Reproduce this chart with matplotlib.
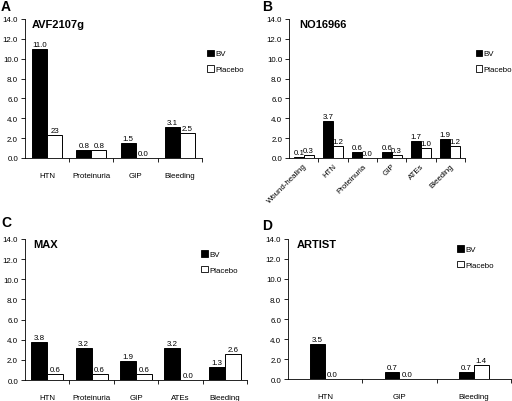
import matplotlib
matplotlib.use("Agg")
import matplotlib.pyplot as plt
from matplotlib.patches import Patch

plt.rcParams["font.family"] = ["Liberation Sans", "DejaVu Sans"]

# Panel data (incidence %, BV vs placebo)
a_cats = ["HTN", "Proteinuria", "GIP", "Bleeding"]
a_bv = [11.0, 0.8, 1.5, 3.1]
a_pl = [2.3, 0.8, 0.0, 2.5]

b_cats = ["Wound-healing", "HTN", "Proteinuria", "GIP", "ATEs", "Bleeding"]
b_bv = [0.1, 3.7, 0.6, 0.6, 1.7, 1.9]
b_pl = [0.3, 1.2, 0.0, 0.3, 1.0, 1.2]

c_cats = ["HTN", "Proteinuria", "GIP", "ATEs", "Bleeding"]
c_bv = [3.8, 3.2, 1.9, 3.2, 1.3]
c_pl = [0.6, 0.6, 0.6, 0.0, 2.6]

d_cats = ["HTN", "GIP", "Bleeding"]
d_bv = [3.5, 0.7, 0.7]
d_pl = [0.0, 0.0, 1.4]

# label as printed in the original figure
label_fix = {("A", 1, 0): "23"}

panels = [
    # letter, title, cats, bv, pl, axes rect, bar width, legend anchor, title x, rotate, letter pos
    ("A", "AVF2107g", a_cats, a_bv, a_pl, [0.0488, 0.6045, 0.3457, 0.3458], 0.34, (1.03, 0.78), 0.04, False, (0.002, 0.999)),
    ("B", "NO16966", b_cats, b_bv, b_pl, [0.5645, 0.6045, 0.3437, 0.3458], 0.34, (1.06, 0.78), 0.057, True, (0.512, 0.999)),
    ("C", "MAX", c_cats, c_bv, c_pl, [0.0488, 0.0522, 0.4336, 0.3508], 0.36, (0.795, 0.92), 0.036, False, (0.002, 0.463)),
    ("D", "ARTIST", d_cats, d_bv, d_pl, [0.5625, 0.0547, 0.4355, 0.3483], 0.2, (0.76, 0.955), 0.04, False, (0.512, 0.455)),
]

fig = plt.figure(figsize=(5.12, 4.02), dpi=100)

for letter, title, cats, bv, pl, rect, w, leg_xy, tx, rot, lpos in panels:
    ax = fig.add_axes(rect)
    n = len(cats)
    centers = [i + 0.5 for i in range(n)]
    xb = [c - w / 2 for c in centers]
    xp = [c + w / 2 for c in centers]
    ax.bar(xb, bv, w, color="black", edgecolor="black", linewidth=0.7)
    ax.bar(xp, pl, w, color="white", edgecolor="black", linewidth=0.7)

    for k, (xs, vals) in enumerate([(xb, bv), (xp, pl)]):
        for i, (x, v) in enumerate(zip(xs, vals)):
            txt = label_fix.get((letter, k, i), "%.1f" % v)
            ax.text(x, v + 0.12, txt, ha="center", va="bottom", fontsize=5.7)

    ax.set_xlim(0, n)
    ax.set_ylim(0, 14)
    ax.set_yticks([0, 2, 4, 6, 8, 10, 12, 14])
    ax.set_yticklabels(["%.1f" % t for t in ax.get_yticks()], fontsize=5.7)
    ax.set_xticks(centers)
    if rot:
        ax.set_xticklabels(cats, fontsize=5.7, rotation=45, ha="right", rotation_mode="anchor")
    else:
        ax.set_xticklabels(cats, fontsize=5.7)
    ax.tick_params(axis="x", which="major", length=0, pad=10 if not rot else 3)
    ax.set_xticks(range(1, n + 1), minor=True)
    ax.tick_params(axis="x", which="minor", length=3, width=0.6)
    ax.tick_params(axis="y", length=3, width=0.6, pad=2)
    for s in ["top", "right"]:
        ax.spines[s].set_visible(False)
    for s in ["left", "bottom"]:
        ax.spines[s].set_linewidth(0.6)

    ax.text(tx, 1.0, title, transform=ax.transAxes, ha="left", va="top",
            fontsize=8, fontweight="bold")
    fig.text(lpos[0], lpos[1], letter, ha="left", va="top", fontsize=10, fontweight="bold")

    handles = [Patch(facecolor="black", edgecolor="black", linewidth=0.6),
               Patch(facecolor="white", edgecolor="black", linewidth=0.6)]
    ax.legend(handles, ["BV", "Placebo"], loc="upper left", bbox_to_anchor=leg_xy,
              frameon=False, fontsize=5.7, handlelength=0.85, handleheight=0.85,
              handletextpad=0.2, labelspacing=1.0, borderpad=0, borderaxespad=0)

fig.savefig("out.png", dpi=100)
